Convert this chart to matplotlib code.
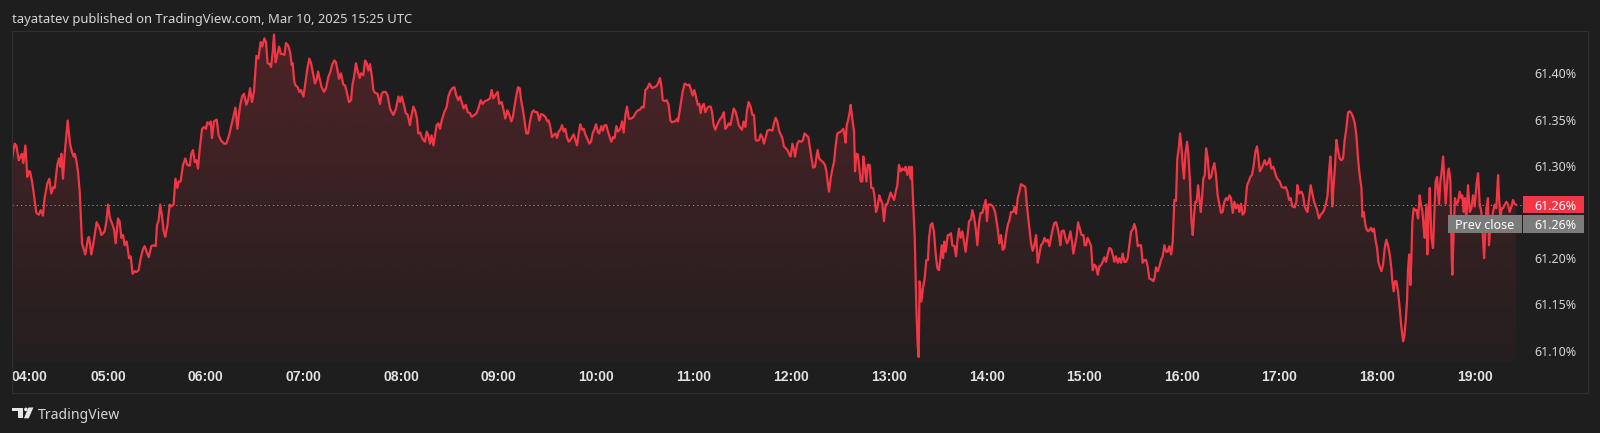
"""
plot.py - US 10Y-style intraday yield line (TradingView dark snapshot look)
"""

import matplotlib

matplotlib.use("Agg")
import matplotlib.pyplot as plt
import numpy as np
from matplotlib.colors import to_rgb
from matplotlib.patches import Circle, Polygon, Rectangle
from matplotlib.transforms import IdentityTransform

plt.rcParams["font.family"] = ["Noto Sans", "DejaVu Sans"]

# ---- data: minutes after 04:00 and value in % ----
t_a = [
    0.9, 2.5, 3.5, 5.0, 6.2, 7.0, 7.8, 9.1, 10.3, 11.1,
    11.9, 13.2, 14.4, 15.8, 17.3, 18.5, 19.9, 20.9, 22.6, 23.8,
    25.0, 26.3, 27.1, 28.7, 29.8, 30.6, 31.2, 32.2, 33.2, 35.1,
    36.5, 37.7, 38.8, 39.4, 40.4, 41.4, 42.5, 43.9, 45.9, 47.6,
    48.2, 49.6, 50.9, 52.9, 53.7, 54.8, 55.8, 57.8, 58.9, 59.9,
    61.1, 62.3, 63.6, 64.6, 66.0, 67.0, 68.1, 69.1, 70.1, 71.4,
    72.8, 73.8, 75.0, 76.3, 77.3, 78.7, 80.0, 81.4, 82.4, 83.6,
    84.9, 86.5, 87.9, 89.2, 90.0, 91.0, 92.0, 93.1, 94.1, 95.1,
    96.4, 97.8, 98.8, 100.2, 101.3, 102.5, 103.3, 104.5, 106.0, 107.4,
    108.6, 110.1, 111.1, 112.1, 113.2, 114.2, 115.2, 116.2, 117.7, 118.9,
    120.1, 120.9, 122.2, 123.0, 123.8, 125.0, 126.7, 127.9, 129.5, 131.2,
    132.6, 134.3, 135.7, 136.7, 138.2, 139.4, 140.2, 141.2, 142.3, 143.5,
    144.9, 146.0, 147.2, 148.4, 149.6, 151.1,
]
v_a = [
    61.308, 61.324, 61.322, 61.306, 61.310, 61.313, 61.303, 61.322, 61.288, 61.294,
    61.294, 61.283, 61.268, 61.249, 61.247, 61.252, 61.246, 61.265, 61.281, 61.286,
    61.270, 61.277, 61.276, 61.301, 61.308, 61.299, 61.313, 61.286, 61.312, 61.349,
    61.324, 61.315, 61.310, 61.313, 61.306, 61.294, 61.272, 61.216, 61.204, 61.222,
    61.223, 61.204, 61.216, 61.239, 61.236, 61.232, 61.225, 61.229, 61.240, 61.258,
    61.243, 61.238, 61.231, 61.216, 61.243, 61.240, 61.222, 61.225, 61.214, 61.218,
    61.200, 61.202, 61.183, 61.186, 61.185, 61.187, 61.200, 61.210, 61.213, 61.207,
    61.201, 61.213, 61.214, 61.213, 61.236, 61.241, 61.258, 61.245, 61.229, 61.223,
    61.236, 61.258, 61.256, 61.258, 61.286, 61.276, 61.283, 61.283, 61.301, 61.308,
    61.301, 61.300, 61.313, 61.317, 61.304, 61.306, 61.297, 61.317, 61.340, 61.342,
    61.340, 61.347, 61.345, 61.348, 61.330, 61.348, 61.350, 61.333, 61.327, 61.324,
    61.324, 61.333, 61.344, 61.351, 61.363, 61.340, 61.353, 61.366, 61.375, 61.378,
    61.366, 61.371, 61.384, 61.369, 61.380, 61.419,
]

t_b = [
    152.3, 153.7, 154.7, 156.0, 157.0, 158.0, 159.3, 160.1, 161.1, 161.9,
    162.9, 164.0, 165.0, 166.2, 167.5, 168.3, 169.3, 170.7, 171.8, 172.8,
    173.4, 174.4, 175.2, 176.5, 177.5, 178.5, 180.0, 181.0, 182.4, 183.6,
    184.7, 186.1, 187.1, 188.2, 189.0, 190.2, 191.2, 192.7, 193.9, 195.3,
    196.6, 197.8, 199.0, 200.0, 201.1, 201.9, 203.1, 204.5, 205.6, 206.6,
    208.0, 209.3, 210.1, 211.1, 212.3, 213.4, 214.6, 215.4, 216.8, 217.9,
    218.9, 219.9, 220.9, 222.0, 223.0, 224.0, 225.6, 227.1, 228.1, 229.1,
    230.6, 231.8, 233.2, 234.3, 235.3, 236.9, 238.4, 239.4, 240.4, 241.8,
    242.9, 244.1, 245.5, 246.5, 247.6, 248.6, 249.8, 250.6, 251.9, 252.7,
    253.7, 254.7, 255.8, 256.8, 257.8, 258.8, 259.9, 260.9, 261.9, 262.9,
    264.0, 265.0, 266.6, 268.1, 269.1, 270.1, 271.5, 272.8, 274.0, 275.2,
    276.3, 277.3, 278.5, 279.8, 281.0, 282.4, 283.4, 285.1, 286.5, 287.5,
    289.0, 290.2, 291.6, 293.1, 294.7, 295.7, 296.8, 297.8, 299.4, 300.4,
    301.9,
]
v_b = [
    61.416, 61.434, 61.429, 61.438, 61.434, 61.411, 61.410, 61.407, 61.423, 61.442,
    61.412, 61.420, 61.429, 61.421, 61.421, 61.420, 61.433, 61.430, 61.423, 61.409,
    61.411, 61.391, 61.387, 61.385, 61.380, 61.382, 61.375, 61.387, 61.405, 61.416,
    61.411, 61.398, 61.389, 61.394, 61.402, 61.393, 61.385, 61.380, 61.384, 61.396,
    61.402, 61.410, 61.414, 61.412, 61.402, 61.394, 61.400, 61.388, 61.387, 61.380,
    61.369, 61.371, 61.387, 61.396, 61.411, 61.402, 61.395, 61.400, 61.398, 61.414,
    61.411, 61.403, 61.410, 61.398, 61.382, 61.379, 61.378, 61.367, 61.378, 61.380,
    61.380, 61.376, 61.362, 61.358, 61.355, 61.362, 61.375, 61.369, 61.375, 61.366,
    61.357, 61.355, 61.344, 61.355, 61.364, 61.360, 61.351, 61.335, 61.336, 61.331,
    61.328, 61.326, 61.337, 61.333, 61.324, 61.333, 61.322, 61.333, 61.344, 61.346,
    61.340, 61.349, 61.358, 61.364, 61.375, 61.380, 61.384, 61.385, 61.376, 61.371,
    61.375, 61.369, 61.362, 61.366, 61.358, 61.357, 61.353, 61.355, 61.357, 61.362,
    61.371, 61.367, 61.370, 61.371, 61.373, 61.382, 61.373, 61.376, 61.380, 61.367,
    61.369,
]

t_c = [
    303.1, 304.1, 305.4, 306.6, 307.8, 308.8, 309.9, 310.9, 311.9, 312.9,
    314.0, 315.0, 316.0, 317.0, 318.1, 319.3, 320.5, 321.5, 322.6, 323.8,
    325.0, 326.1, 327.5, 328.7, 330.0, 330.8, 332.0, 332.8, 333.8, 334.9,
    335.9, 336.9, 337.9, 339.0, 340.0, 341.0, 342.0, 343.1, 344.1, 345.1,
    346.1, 347.2, 348.2, 349.2, 350.2, 351.3, 352.3, 353.3, 354.3, 355.8,
    356.8, 357.8, 359.0, 359.9, 361.1, 361.9, 363.1, 364.0, 365.2, 366.2,
    367.2, 368.3, 369.3, 370.3, 371.3, 372.4, 373.4, 374.8, 375.9, 376.9,
    377.9, 378.9, 380.0, 381.4, 383.0, 384.5, 385.7, 387.1, 388.1, 389.2,
    390.2, 391.4, 392.7, 393.5, 394.3, 395.5, 396.8, 398.0, 399.2, 400.0,
    400.9, 402.1, 403.3, 404.5, 405.6, 406.6, 407.6, 408.6, 409.7, 410.3,
    411.7, 413.1, 414.4, 415.4, 416.4, 417.2, 418.3, 419.3, 420.3, 421.3,
    422.4, 423.4, 424.2, 425.0, 426.1, 427.1, 428.1, 429.1, 430.4, 431.2,
    432.2, 433.2, 434.3, 435.3, 436.3, 437.3, 438.4, 439.4, 440.4, 441.4,
    442.5, 443.5, 444.5, 445.5, 446.5, 447.6, 448.6, 449.6, 450.6, 451.7,
    452.7, 453.7,
]
v_c = [
    61.360, 61.351, 61.360, 61.355, 61.348, 61.353, 61.366, 61.376, 61.385, 61.384,
    61.369, 61.360, 61.348, 61.335, 61.335, 61.348, 61.358, 61.360, 61.358, 61.358,
    61.349, 61.356, 61.355, 61.353, 61.348, 61.349, 61.340, 61.331, 61.333, 61.335,
    61.330, 61.337, 61.339, 61.344, 61.337, 61.340, 61.331, 61.326, 61.328, 61.331,
    61.334, 61.328, 61.322, 61.335, 61.345, 61.339, 61.340, 61.334, 61.330, 61.324,
    61.326, 61.335, 61.340, 61.345, 61.336, 61.335, 61.343, 61.338, 61.344, 61.344,
    61.337, 61.331, 61.326, 61.331, 61.330, 61.343, 61.337, 61.340, 61.348, 61.336,
    61.355, 61.364, 61.351, 61.351, 61.353, 61.358, 61.360, 61.361, 61.364, 61.363,
    61.382, 61.384, 61.389, 61.387, 61.384, 61.385, 61.386, 61.389, 61.395, 61.387,
    61.371, 61.370, 61.371, 61.366, 61.349, 61.347, 61.348, 61.348, 61.351, 61.348,
    61.364, 61.380, 61.389, 61.388, 61.387, 61.388, 61.382, 61.376, 61.382, 61.375,
    61.366, 61.367, 61.357, 61.364, 61.367, 61.358, 61.362, 61.364, 61.364, 61.358,
    61.344, 61.339, 61.344, 61.348, 61.351, 61.353, 61.358, 61.340, 61.342, 61.346,
    61.344, 61.353, 61.362, 61.359, 61.353, 61.344, 61.341, 61.339, 61.348, 61.342,
    61.360, 61.369,
]

t_d = [
    454.9, 456.0, 457.0, 458.0, 459.0, 460.1, 461.1, 462.1, 463.1, 464.2,
    465.2, 466.6, 468.3, 469.3, 470.3, 471.3, 472.4, 473.4, 474.4, 475.4,
    476.5, 477.5, 478.5, 479.5, 480.6, 481.6, 482.2, 483.6, 484.7, 486.3,
    487.1, 488.1, 489.2, 490.4, 491.4, 492.4, 493.3, 494.5, 495.3, 496.1,
    497.0, 498.0, 499.4, 500.6, 501.5, 502.5, 503.1, 504.1, 505.2, 506.2,
    507.2, 508.2, 509.2, 510.3, 510.9, 511.9, 512.7, 513.3, 514.0, 514.8,
    515.8, 516.4, 517.4, 518.5, 519.1, 519.9, 520.9, 521.9, 522.6, 523.6,
    524.2, 525.2, 526.1, 526.9, 528.1, 529.1, 530.2, 531.0, 532.0, 533.0,
    534.0, 534.9, 535.9, 536.9, 537.9, 539.0, 540.0, 541.0, 542.0, 543.1,
    544.1, 545.1, 546.1, 547.2, 548.2, 549.4, 550.2, 551.3, 552.3, 553.3,
    553.9, 554.7, 555.8, 556.8, 557.6, 558.2, 558.8, 559.9, 560.9, 561.9,
    562.9, 563.9, 564.6, 565.6, 566.6, 567.6, 568.7, 569.7, 570.7, 571.7,
    572.4, 573.2, 574.0, 574.8, 576.1, 576.9, 578.1, 578.9, 580.2, 581.2,
    582.2, 583.0, 584.0, 585.1, 586.1, 587.1, 588.1, 589.2, 590.4, 591.2,
    592.2, 593.3, 594.3, 595.3, 596.3, 597.4, 598.4, 599.4, 600.2, 601.0,
    602.5, 603.9, 605.2,
]
v_d = [
    61.364, 61.355, 61.355, 61.328, 61.327, 61.328, 61.334, 61.331, 61.324, 61.331,
    61.338, 61.339, 61.338, 61.346, 61.352, 61.348, 61.338, 61.334, 61.330, 61.321,
    61.319, 61.317, 61.313, 61.310, 61.324, 61.317, 61.310, 61.324, 61.327, 61.326,
    61.328, 61.335, 61.333, 61.331, 61.319, 61.308, 61.298, 61.299, 61.309, 61.317,
    61.308, 61.306, 61.304, 61.301, 61.294, 61.279, 61.272, 61.286, 61.297, 61.304,
    61.322, 61.335, 61.336, 61.337, 61.338, 61.340, 61.333, 61.325, 61.344, 61.349,
    61.358, 61.366, 61.351, 61.337, 61.294, 61.313, 61.312, 61.294, 61.283, 61.283,
    61.310, 61.297, 61.283, 61.301, 61.301, 61.276, 61.276, 61.268, 61.250, 61.256,
    61.268, 61.263, 61.259, 61.240, 61.258, 61.259, 61.265, 61.271, 61.267, 61.263,
    61.272, 61.279, 61.301, 61.294, 61.297, 61.295, 61.299, 61.290, 61.299, 61.286,
    61.299, 61.265, 61.222, 61.146, 61.106, 61.093, 61.175, 61.153, 61.168, 61.178,
    61.198, 61.198, 61.222, 61.236, 61.238, 61.229, 61.204, 61.189, 61.187, 61.202,
    61.214, 61.200, 61.218, 61.207, 61.225, 61.225, 61.227, 61.214, 61.213, 61.202,
    61.222, 61.232, 61.222, 61.229, 61.218, 61.207, 61.222, 61.240, 61.242, 61.252,
    61.245, 61.232, 61.214, 61.238, 61.249, 61.249, 61.256, 61.263, 61.240, 61.258,
    61.258, 61.256, 61.250,
]

t_e = [
    606.8, 607.8, 608.8, 609.9, 610.9, 611.9, 613.0, 614.0, 615.0, 616.4,
    617.2, 618.1, 619.1, 620.1, 621.1, 622.2, 623.8, 624.8, 626.3, 627.3,
    628.3, 629.3, 630.4, 631.4, 632.4, 633.4, 634.5, 635.5, 636.5, 637.5,
    638.6, 639.6, 640.6, 641.6, 642.7, 643.7, 644.7, 645.3, 646.1, 647.4,
    648.4, 649.4, 650.4, 651.5, 652.5, 653.3, 654.3, 655.4, 656.2, 657.4,
    658.4, 659.5, 660.3, 661.1, 662.1, 663.1, 664.2, 665.2, 666.2, 667.2,
    668.3, 669.3, 670.5, 671.3, 672.4, 673.4, 674.4, 675.4, 676.5, 677.5,
    678.5, 679.5, 680.6, 681.6, 682.6, 683.6, 684.7, 685.7, 686.7, 687.7,
    688.8, 689.8, 690.8, 691.8, 692.9, 693.9, 694.9, 695.9, 697.0, 698.0,
    699.0, 700.0, 701.3, 702.5, 703.3, 704.1, 705.2, 706.2, 707.2, 708.2,
    709.3, 710.3, 711.3, 712.3, 713.4, 714.4, 715.4, 716.4, 717.2, 718.1,
    718.9, 719.7, 720.5, 721.3, 722.2, 723.2, 724.0, 725.0, 725.9, 726.7,
    727.5, 728.3, 729.1, 730.0, 730.8, 731.6, 732.4, 733.2, 734.1, 734.9,
    735.9, 736.9, 738.0, 739.0, 740.0, 741.0, 742.0, 743.1, 744.1, 745.1,
    746.1, 747.2, 748.2, 749.2, 750.2, 751.3, 752.3, 753.3, 754.3, 755.4,
    756.4, 757.4,
]
v_e = [
    61.232, 61.216, 61.225, 61.209, 61.211, 61.225, 61.236, 61.241, 61.250, 61.250,
    61.256, 61.248, 61.265, 61.272, 61.280, 61.279, 61.277, 61.256, 61.232, 61.216,
    61.208, 61.214, 61.225, 61.195, 61.204, 61.214, 61.216, 61.222, 61.218, 61.220,
    61.213, 61.223, 61.231, 61.238, 61.239, 61.232, 61.222, 61.214, 61.229, 61.230,
    61.222, 61.216, 61.220, 61.229, 61.218, 61.205, 61.214, 61.225, 61.239, 61.231,
    61.225, 61.225, 61.214, 61.214, 61.222, 61.218, 61.213, 61.187, 61.193, 61.191,
    61.182, 61.191, 61.193, 61.196, 61.201, 61.196, 61.204, 61.211, 61.210, 61.204,
    61.196, 61.202, 61.195, 61.200, 61.195, 61.205, 61.196, 61.196, 61.200, 61.214,
    61.229, 61.231, 61.237, 61.231, 61.213, 61.214, 61.214, 61.195, 61.198, 61.198,
    61.191, 61.178, 61.177, 61.175, 61.180, 61.190, 61.186, 61.191, 61.198, 61.202,
    61.214, 61.207, 61.207, 61.213, 61.204, 61.218, 61.263, 61.262, 61.308, 61.319,
    61.335, 61.322, 61.301, 61.286, 61.313, 61.326, 61.313, 61.283, 61.240, 61.225,
    61.247, 61.261, 61.261, 61.279, 61.265, 61.250, 61.265, 61.286, 61.290, 61.319,
    61.308, 61.286, 61.288, 61.297, 61.303, 61.290, 61.268, 61.258, 61.249, 61.250,
    61.261, 61.265, 61.263, 61.268, 61.265, 61.249, 61.261, 61.254, 61.258, 61.250,
    61.259, 61.247,
]

t_f = [
    758.6, 760.1, 761.1, 762.1, 763.1, 764.2, 765.2, 766.2, 767.0, 767.9,
    768.9, 769.9, 770.9, 772.0, 773.0, 774.0, 775.0, 776.1, 777.1, 778.1,
    779.1, 780.2, 781.4, 782.6, 783.8, 784.9, 785.9, 786.9, 787.9, 789.4,
    790.4, 791.0, 792.0, 793.5, 794.5, 795.5, 796.5, 797.2, 798.2, 799.2,
    800.2, 801.3, 802.3, 803.1, 804.3, 805.4, 806.4, 807.4, 808.4, 809.5,
    810.5, 811.3, 811.9, 812.5, 813.3, 814.2, 815.0, 816.0, 817.0, 818.1,
    819.1, 820.1, 821.1, 822.2, 823.2, 824.2, 825.2, 826.3, 827.3, 828.3,
    829.3, 830.4, 831.0, 831.8, 832.8, 833.6, 834.5, 835.5, 836.3, 837.1,
    838.1, 839.2, 840.0, 840.8, 841.6, 842.7, 843.7, 844.7, 845.7, 846.8,
    847.8, 848.8, 849.4, 850.2, 851.0, 851.9, 852.9, 853.9, 854.9, 856.0,
    856.8, 857.6, 858.4, 859.0, 859.7, 860.5, 861.1, 861.7, 862.5, 863.6,
    864.2, 865.2, 866.2, 867.0, 867.9, 868.7, 869.3, 870.3, 870.9, 871.7,
    872.4, 873.4, 874.4, 875.4, 876.0, 876.9, 877.5, 878.1, 878.9, 879.7,
    880.6, 881.4, 882.2, 883.0, 883.6, 884.2, 885.1, 885.9, 886.3, 887.1,
    887.9, 888.8, 889.8, 890.8, 891.8, 892.4, 893.3, 893.9, 894.9, 895.9,
    897.0, 898.0, 899.0, 900.0, 901.1, 902.1, 903.1, 904.1, 905.1, 905.8,
    906.6, 907.2, 908.2, 908.8, 909.7, 910.5, 911.3, 912.3, 913.3, 914.4,
    915.0, 915.8, 916.6, 917.4, 918.5, 919.5, 920.5, 921.5, 922.6, 923.6,
    924.5, 925.4,
]
v_f = [
    61.250, 61.279, 61.283, 61.288, 61.290, 61.301, 61.315, 61.321, 61.310, 61.294,
    61.297, 61.301, 61.306, 61.301, 61.303, 61.308, 61.297, 61.299, 61.294, 61.288,
    61.285, 61.283, 61.277, 61.276, 61.277, 61.272, 61.263, 61.265, 61.256, 61.255,
    61.261, 61.279, 61.270, 61.272, 61.268, 61.256, 61.252, 61.250, 61.265, 61.279,
    61.270, 61.261, 61.256, 61.252, 61.243, 61.247, 61.249, 61.252, 61.258, 61.267,
    61.294, 61.310, 61.290, 61.256, 61.279, 61.301, 61.328, 61.317, 61.308, 61.306,
    61.308, 61.328, 61.340, 61.358, 61.359, 61.357, 61.353, 61.346, 61.333, 61.308,
    61.290, 61.276, 61.245, 61.250, 61.236, 61.231, 61.229, 61.231, 61.233, 61.229,
    61.232, 61.218, 61.211, 61.196, 61.191, 61.186, 61.193, 61.211, 61.220, 61.213,
    61.204, 61.189, 61.175, 61.164, 61.175, 61.175, 61.164, 61.146, 61.126, 61.110,
    61.116, 61.132, 61.153, 61.186, 61.204, 61.171, 61.200, 61.240, 61.254, 61.252,
    61.252, 61.243, 61.268, 61.258, 61.250, 61.232, 61.222, 61.258, 61.204, 61.250,
    61.276, 61.222, 61.211, 61.256, 61.283, 61.288, 61.272, 61.258, 61.283, 61.294,
    61.310, 61.283, 61.259, 61.279, 61.294, 61.297, 61.283, 61.200, 61.182, 61.229,
    61.265, 61.258, 61.261, 61.272, 61.265, 61.268, 61.250, 61.265, 61.243, 61.279,
    61.250, 61.254, 61.268, 61.256, 61.279, 61.292, 61.258, 61.250, 61.222, 61.200,
    61.229, 61.254, 61.265, 61.214, 61.236, 61.243, 61.250, 61.258, 61.254, 61.290,
    61.265, 61.243, 61.254, 61.254, 61.258, 61.261, 61.258, 61.250, 61.256, 61.263,
    61.259, 61.258,
]

prev_close = 61.258
hour_ticks = [60, 120, 180, 240, 300, 360, 420, 480, 540, 600, 660, 720, 780, 840, 900]
hour_labels = ["05:00", "06:00", "07:00", "08:00", "09:00", "10:00", "11:00", "12:00",
               "13:00", "14:00", "15:00", "16:00", "17:00", "18:00", "19:00"]
price_ticks = [61.10, 61.15, 61.20, 61.30, 61.35, 61.40]
header = "tayatatev published on TradingView.com, Mar 10, 2025 15:25 UTC"

# ---- look ----
W, H = 1600, 433
PX = 0.72  # points per pixel at dpi=100
BG = "#1e1e1e"
RED = "#f23645"
GREY_LBL = "#7b7b7b"
TXT = "#d6d6d6"
X_LIM = (0.86, 929.1)
Y_LIM = (61.0876, 61.4459)


def fig_rect(x0, y0, x1, y1):
    """pixel box (top-left origin) -> figure fraction [l, b, w, h]"""
    return [x0 / W, 1 - y1 / H, (x1 - x0) / W, (y1 - y0) / H]


def px_rect(x0, y0, x1, y1, **kw):
    """Rectangle in output pixels, top-left origin."""
    return Rectangle((x0, H - y1), x1 - x0, y1 - y0, transform=IdentityTransform(), **kw)


def main() -> None:
    t = np.concatenate([t_a, t_b, t_c, t_d, t_e, t_f])
    v = np.concatenate([v_a, v_b, v_c, v_d, v_e, v_f])

    fig = plt.figure(figsize=(W / 100, H / 100), dpi=100, facecolor=BG)
    ax = fig.add_axes(fig_rect(12, 31, 1522, 362))
    ax.set_facecolor(BG)
    for s in ax.spines.values():
        s.set_visible(False)

    # gradient fill under the line
    grad = np.zeros((256, 1, 4))
    grad[..., :3] = to_rgb(RED)
    grad[:, 0, 3] = np.linspace(0.23, 0.03, 256)
    area = ax.fill_between(t, v, Y_LIM[0], facecolor="none", edgecolor="none")
    img = ax.imshow(grad, extent=[X_LIM[0], X_LIM[1], Y_LIM[0], Y_LIM[1]],
                    aspect="auto", origin="upper", interpolation="bilinear", zorder=1)
    img.set_clip_path(area.get_paths()[0], transform=ax.transData)

    ax.plot(t, v, color=RED, lw=1.6, solid_joinstyle="round", zorder=3)
    ax.axhline(prev_close, color="#8a8a8a", lw=PX, ls=(0, (1.3, 2.9)), zorder=2)

    ax.set_xlim(*X_LIM)
    ax.set_ylim(*Y_LIM)

    ax.set_xticks([X_LIM[0]] + hour_ticks, ["04:00"] + hour_labels)
    ax.set_yticks(price_ticks, [f"{p:.2f}%" for p in price_ticks])
    ax.yaxis.tick_right()
    ax.tick_params(axis="x", length=0, pad=8 * PX, labelsize=14 * PX, labelcolor="#e2e2e2")
    ax.tick_params(axis="y", length=0, pad=12 * PX, labelsize=12.5 * PX, labelcolor=TXT)
    for i, lab in enumerate(ax.get_xticklabels()):
        lab.set_fontfamily(["Liberation Sans", "DejaVu Sans"])
        lab.set_fontweight("bold")
        if i == 0:
            lab.set_horizontalalignment("left")

    # pane frame
    fig.add_artist(px_rect(11.7, 30.7, 1588, 393, fc="none", ec="#2f2f2f", lw=1.2 * PX))

    # last value / previous close labels on the price scale
    c = H - ax.transData.transform((t[-1], v[-1]))[1]  # top-left pixel y
    r0, r1 = c - 8.5, c + 8.5
    fig.add_artist(px_rect(1523, r0, 1584, r1, fc=RED, ec="none", zorder=4))
    g0, g1 = r1 + 1.5, r1 + 20
    fig.add_artist(px_rect(1447.7, g0, 1521.8, g1, fc=GREY_LBL, ec="none", zorder=4))
    fig.add_artist(px_rect(1523, g0, 1584, g1, fc=GREY_LBL, ec="none", zorder=4))
    lbl = dict(transform=IdentityTransform(), va="center_baseline", fontsize=12.5 * PX,
               color="white", zorder=5)
    fig.text(1534, H - (r0 + r1) / 2, f"{v[-1]:.2f}%", ha="left", **lbl)
    fig.text(1484.7, H - (g0 + g1) / 2, "Prev close", ha="center", **lbl)
    fig.text(1534, H - (g0 + g1) / 2, f"{prev_close:.2f}%", ha="left", **lbl)

    # header and brand
    fig.text(12.3, H - 22.5, header, transform=IdentityTransform(), ha="left",
             va="baseline", fontsize=13 * PX, color=TXT)
    fig.text(38, H - 413.5, "TradingView", transform=IdentityTransform(), ha="left",
             va="center_baseline", fontsize=14 * PX, color=TXT)
    logo = dict(fc="#e6e6e6", ec="none")
    fig.add_artist(px_rect(12.3, 407.5, 23.4, 411.2, **logo))
    fig.add_artist(px_rect(18.0, 407.5, 23.4, 418.3, **logo))
    fig.add_artist(Circle((25.9, H - 409.4), 1.8, transform=IdentityTransform(), **logo))
    fig.add_artist(Polygon([(28.4, H - 407.5), (33.4, H - 407.5),
                            (28.7, H - 418.3), (24.0, H - 418.3)], closed=True,
                           transform=IdentityTransform(), **logo))

    fig.savefig("out.png", dpi=100, facecolor=BG)
    plt.close(fig)


if __name__ == "__main__":
    main()
